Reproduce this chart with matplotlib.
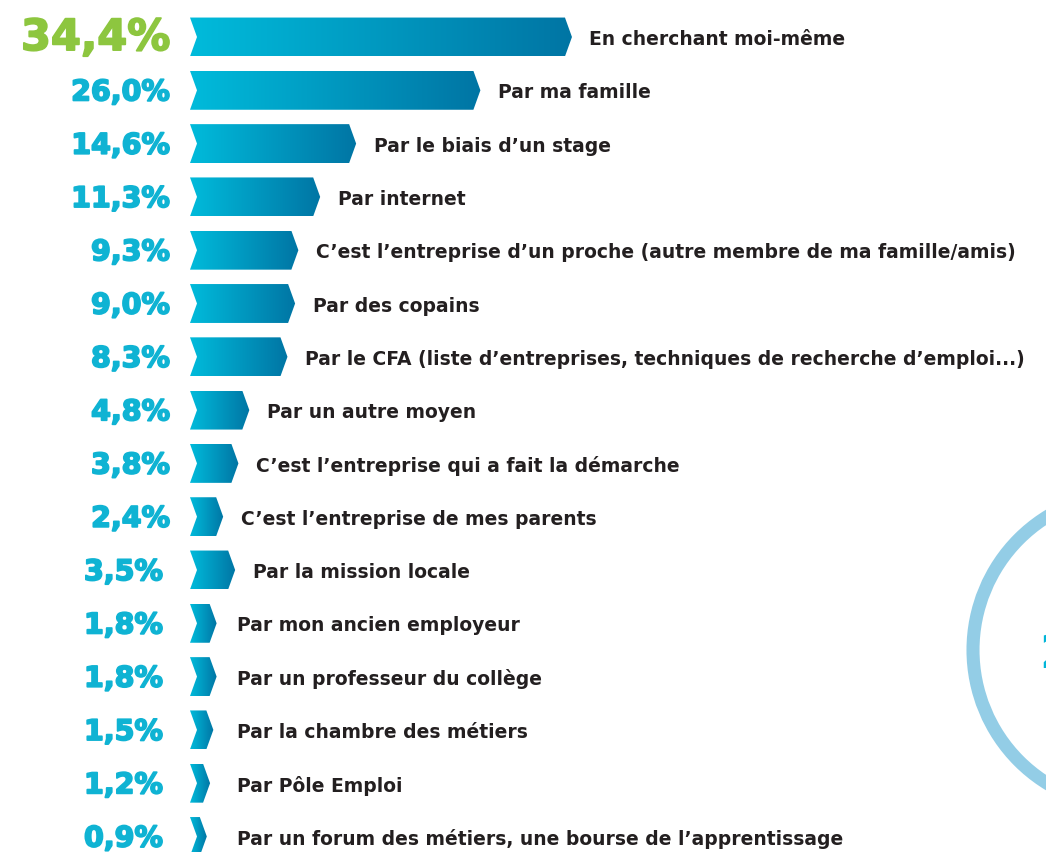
import matplotlib.pyplot as plt
import matplotlib.patheffects as pe
import numpy as np
from matplotlib.colors import LinearSegmentedColormap
from matplotlib.patches import Polygon, Ellipse

# data
values = [34.4, 26.0, 14.6, 11.3, 9.3, 9.0, 8.3, 4.8, 3.8, 2.4, 3.5, 1.8, 1.8, 1.5, 1.2, 0.9]
pct_labels = ["34,4%", "26,0%", "14,6%", "11,3%", "9,3%", "9,0%", "8,3%", "4,8%",
              "3,8%", "2,4%", "3,5%", "1,8%", "1,8%", "1,5%", "1,2%", "0,9%"]
categories = [
    "En cherchant moi-même",
    "Par ma famille",
    "Par le biais d\u2019un stage",
    "Par internet",
    "C\u2019est l\u2019entreprise d\u2019un proche (autre membre de ma famille/amis)",
    "Par des copains",
    "Par le CFA (liste d\u2019entreprises, techniques de recherche d\u2019emploi...)",
    "Par un autre moyen",
    "C\u2019est l\u2019entreprise qui a fait la démarche",
    "C\u2019est l\u2019entreprise de mes parents",
    "Par la mission locale",
    "Par mon ancien employeur",
    "Par un professeur du collège",
    "Par la chambre des métiers",
    "Par Pôle Emploi",
    "Par un forum des métiers, une bourse de l\u2019apprentissage",
]

W, H = 1046, 852
px_per = 10.9   # pixels per percent
row_px = 53.3   # pixels per row
x0_px, y0_px = 190, 37

cyan = "#0fb3d3"
green = "#8dc63f"
dark = "#231f20"
cmap = LinearSegmentedColormap.from_list("bar", ["#00bbdb", "#0075a4"])

fig = plt.figure(figsize=(W / 100, H / 100), dpi=100)
ax = fig.add_axes([0, 0, 1, 1])

h = 0.365        # half bar height in rows
d = 7 / px_per   # chevron depth in percent units
grad = np.linspace(0, 1, 256).reshape(1, -1)

for i, v in enumerate(values):
    pts = [(0, i - h), (v, i - h), (v + d, i), (v, i + h), (0, i + h), (d, i)]
    poly = Polygon(pts, closed=True, facecolor="none", edgecolor="none")
    ax.add_patch(poly)
    im = ax.imshow(grad, extent=(0, v + d, i + h, i - h), cmap=cmap, aspect="auto",
                   interpolation="bilinear")
    im.set_clip_path(poly)

    # percentage on the left (stroke makes the digits heavier)
    lx = -20 / px_per if i < 10 else -27 / px_per
    col = green if i == 0 else cyan
    size = 31 if i == 0 else 20.5
    ax.text(lx, i + (0.02 if i == 0 else 0.04), pct_labels[i], ha="right", va="center",
            fontsize=size, fontweight="bold", color=col, family="DejaVu Sans",
            path_effects=[pe.withStroke(linewidth=1.3, foreground=col)])

    # category on the right
    tx = max(v + d + 1.6, 47 / px_per)
    ax.text(tx, i + 0.05, categories[i], ha="left", va="center", fontsize=13.5,
            fontweight="bold", color=dark, family="DejaVu Sans")

ax.set_xlim(-x0_px / px_per, (W - x0_px) / px_per)
ax.set_ylim((H - y0_px) / row_px, -y0_px / row_px)
ax.axis("off")

# decorative ring cut by the right edge
ring = Ellipse((1130 / W, 1 - 650 / H), 2 * 157 / W, 2 * 157 / H, transform=fig.transFigure,
               facecolor="none", edgecolor="#93cde6", linewidth=9.4)
fig.add_artist(ring)
fig.text(1039 / W, 1 - 656 / H, "2", ha="left", va="center", fontsize=34,
         fontweight="bold", color="#00b5d8", family="DejaVu Sans")

fig.savefig("out.png", dpi=100, facecolor="white")
